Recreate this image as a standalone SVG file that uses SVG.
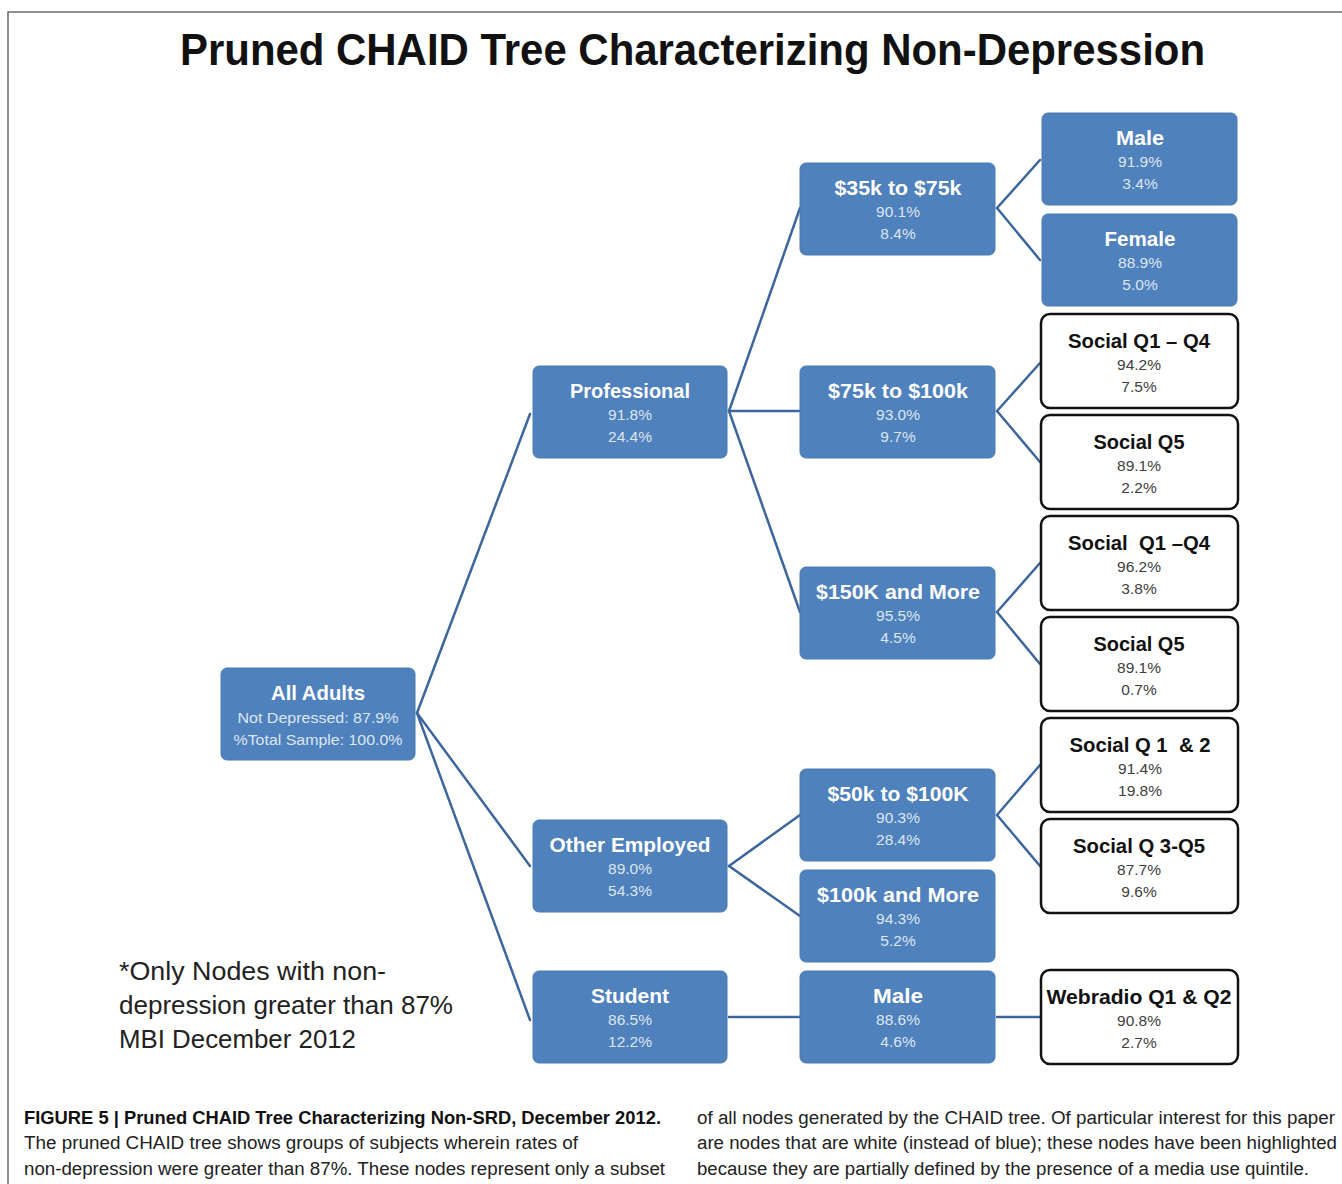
<svg xmlns="http://www.w3.org/2000/svg" width="1342" height="1184" viewBox="0 0 1342 1184">
<style>
.bg{fill:#ffffff}
.frame{fill:none;stroke:#6b6b6b;stroke-width:1.5}
.blue{fill:#4f81bd;stroke:#4a7bb7;stroke-width:1}
.white{fill:#ffffff;stroke:#111111;stroke-width:2.5}
.conn line{stroke:#3d679c;stroke-width:2.5;stroke-linecap:round}
.bt{font-family:"Liberation Sans",Arial,sans-serif;font-weight:bold;font-size:21px;fill:#ffffff;text-anchor:middle}
.bp{font-family:"Liberation Sans",Arial,sans-serif;font-size:15.5px;fill:#dce6f2;text-anchor:middle}
.wt{font-family:"Liberation Sans",Arial,sans-serif;font-weight:bold;font-size:21px;fill:#111111;text-anchor:middle}
.wp{font-family:"Liberation Sans",Arial,sans-serif;font-size:15.5px;fill:#404040;text-anchor:middle}
.title{font-family:"Liberation Sans",Arial,sans-serif;font-weight:bold;font-size:44px;fill:#111111}
.note{font-family:"Liberation Sans",Arial,sans-serif;font-size:25px;fill:#222222}
.cap{font-family:"Liberation Sans",Arial,sans-serif;font-size:18px;fill:#222222}
.capb{font-family:"Liberation Sans",Arial,sans-serif;font-size:18px;font-weight:bold;fill:#111111}
</style>
<rect class="bg" x="0" y="0" width="1342" height="1184"/>
<path class="frame" d="M8,1184 L8,12 L1342,12"/>
<text class="title" x="180" y="65" textLength="1025" lengthAdjust="spacingAndGlyphs">Pruned CHAID Tree Characterizing Non-Depression</text>

<g id="connectors" class="conn">
<line x1="417" y1="713" x2="530" y2="414"/>
<line x1="417" y1="713" x2="530" y2="866"/>
<line x1="417" y1="713" x2="530" y2="1020"/>
<line x1="729" y1="411" x2="800" y2="208"/>
<line x1="729" y1="411" x2="800" y2="411"/>
<line x1="729" y1="411" x2="800" y2="612"/>
<line x1="997" y1="208" x2="1040" y2="160"/>
<line x1="997" y1="208" x2="1040" y2="260"/>
<line x1="997" y1="411" x2="1040" y2="363"/>
<line x1="997" y1="411" x2="1040" y2="462"/>
<line x1="997" y1="612" x2="1040" y2="563"/>
<line x1="997" y1="612" x2="1040" y2="664"/>
<line x1="729" y1="866" x2="800" y2="815"/>
<line x1="729" y1="866" x2="800" y2="916"/>
<line x1="997" y1="815" x2="1040" y2="765"/>
<line x1="997" y1="815" x2="1040" y2="866"/>
<line x1="729" y1="1017" x2="800" y2="1017"/>
<line x1="997" y1="1017" x2="1040" y2="1017"/>
</g>

<g id="n-all">
<rect class="blue" x="221" y="668" width="194" height="92" rx="6"/>
<text class="bt" x="318" y="700" textLength="94" lengthAdjust="spacingAndGlyphs">All Adults</text>
<text class="bp" x="318" y="723" textLength="161" lengthAdjust="spacingAndGlyphs">Not Depressed: 87.9%</text>
<text class="bp" x="318" y="745" textLength="169" lengthAdjust="spacingAndGlyphs">%Total Sample: 100.0%</text>
</g>

<g id="n-prof">
<rect class="blue" x="533" y="366" width="194" height="92" rx="6"/>
<text class="bt" x="630" y="398" textLength="120" lengthAdjust="spacingAndGlyphs">Professional</text>
<text class="bp" x="630" y="420">91.8%</text>
<text class="bp" x="630" y="442">24.4%</text>
</g>

<g id="n-other">
<rect class="blue" x="533" y="820" width="194" height="92" rx="6"/>
<text class="bt" x="630" y="852" textLength="161" lengthAdjust="spacingAndGlyphs">Other Employed</text>
<text class="bp" x="630" y="874">89.0%</text>
<text class="bp" x="630" y="896">54.3%</text>
</g>

<g id="n-student">
<rect class="blue" x="533" y="971" width="194" height="92" rx="6"/>
<text class="bt" x="630" y="1003" textLength="78" lengthAdjust="spacingAndGlyphs">Student</text>
<text class="bp" x="630" y="1025">86.5%</text>
<text class="bp" x="630" y="1047">12.2%</text>
</g>

<g id="n-35k">
<rect class="blue" x="800" y="163" width="195" height="92" rx="6"/>
<text class="bt" x="898" y="195" textLength="127" lengthAdjust="spacingAndGlyphs">$35k to $75k</text>
<text class="bp" x="898" y="217">90.1%</text>
<text class="bp" x="898" y="239">8.4%</text>
</g>

<g id="n-75k">
<rect class="blue" x="800" y="366" width="195" height="92" rx="6"/>
<text class="bt" x="898" y="398" textLength="140" lengthAdjust="spacingAndGlyphs">$75k to $100k</text>
<text class="bp" x="898" y="420">93.0%</text>
<text class="bp" x="898" y="442">9.7%</text>
</g>

<g id="n-150k">
<rect class="blue" x="800" y="567" width="195" height="92" rx="6"/>
<text class="bt" x="898" y="599" textLength="164" lengthAdjust="spacingAndGlyphs">$150K and More</text>
<text class="bp" x="898" y="621">95.5%</text>
<text class="bp" x="898" y="643">4.5%</text>
</g>

<g id="n-50k">
<rect class="blue" x="800" y="769" width="195" height="92" rx="6"/>
<text class="bt" x="898" y="801" textLength="141" lengthAdjust="spacingAndGlyphs">$50k to $100K</text>
<text class="bp" x="898" y="823">90.3%</text>
<text class="bp" x="898" y="845">28.4%</text>
</g>

<g id="n-100k">
<rect class="blue" x="800" y="870" width="195" height="92" rx="6"/>
<text class="bt" x="898" y="902" textLength="162" lengthAdjust="spacingAndGlyphs">$100k and More</text>
<text class="bp" x="898" y="924">94.3%</text>
<text class="bp" x="898" y="946">5.2%</text>
</g>

<g id="n-smale">
<rect class="blue" x="800" y="971" width="195" height="92" rx="6"/>
<text class="bt" x="898" y="1003" textLength="50" lengthAdjust="spacingAndGlyphs">Male</text>
<text class="bp" x="898" y="1025">88.6%</text>
<text class="bp" x="898" y="1047">4.6%</text>
</g>

<g id="n-male">
<rect class="blue" x="1042" y="113" width="195" height="92" rx="6"/>
<text class="bt" x="1140" y="145" textLength="48" lengthAdjust="spacingAndGlyphs">Male</text>
<text class="bp" x="1140" y="167">91.9%</text>
<text class="bp" x="1140" y="189">3.4%</text>
</g>

<g id="n-female">
<rect class="blue" x="1042" y="214" width="195" height="92" rx="6"/>
<text class="bt" x="1140" y="246" textLength="71" lengthAdjust="spacingAndGlyphs">Female</text>
<text class="bp" x="1140" y="268">88.9%</text>
<text class="bp" x="1140" y="290">5.0%</text>
</g>

<g id="n-s1">
<rect class="white" x="1041" y="314" width="197" height="94" rx="9"/>
<text class="wt" x="1139" y="348" textLength="142" lengthAdjust="spacingAndGlyphs">Social Q1 – Q4</text>
<text class="wp" x="1139" y="370">94.2%</text>
<text class="wp" x="1139" y="392">7.5%</text>
</g>

<g id="n-s2">
<rect class="white" x="1041" y="415" width="197" height="94" rx="9"/>
<text class="wt" x="1139" y="449" textLength="91" lengthAdjust="spacingAndGlyphs">Social Q5</text>
<text class="wp" x="1139" y="471">89.1%</text>
<text class="wp" x="1139" y="493">2.2%</text>
</g>

<g id="n-s3">
<rect class="white" x="1041" y="516" width="197" height="94" rx="9"/>
<text class="wt" x="1139" y="550" textLength="142" lengthAdjust="spacingAndGlyphs" xml:space="preserve">Social  Q1 –Q4</text>
<text class="wp" x="1139" y="572">96.2%</text>
<text class="wp" x="1139" y="594">3.8%</text>
</g>

<g id="n-s4">
<rect class="white" x="1041" y="617" width="197" height="94" rx="9"/>
<text class="wt" x="1139" y="651" textLength="91" lengthAdjust="spacingAndGlyphs">Social Q5</text>
<text class="wp" x="1139" y="673">89.1%</text>
<text class="wp" x="1139" y="695">0.7%</text>
</g>

<g id="n-s5">
<rect class="white" x="1041" y="718" width="197" height="94" rx="9"/>
<text class="wt" x="1140" y="752" textLength="141" lengthAdjust="spacingAndGlyphs" xml:space="preserve">Social Q 1  &amp; 2</text>
<text class="wp" x="1140" y="774">91.4%</text>
<text class="wp" x="1140" y="796">19.8%</text>
</g>

<g id="n-s6">
<rect class="white" x="1041" y="819" width="197" height="94" rx="9"/>
<text class="wt" x="1139" y="853" textLength="132" lengthAdjust="spacingAndGlyphs">Social Q 3-Q5</text>
<text class="wp" x="1139" y="875">87.7%</text>
<text class="wp" x="1139" y="897">9.6%</text>
</g>

<g id="n-web">
<rect class="white" x="1041" y="970" width="197" height="94" rx="9"/>
<text class="wt" x="1139" y="1004" textLength="185" lengthAdjust="spacingAndGlyphs">Webradio Q1 &amp; Q2</text>
<text class="wp" x="1139" y="1026">90.8%</text>
<text class="wp" x="1139" y="1048">2.7%</text>
</g>

<g id="note">
<text class="note" x="119" y="980" textLength="267" lengthAdjust="spacingAndGlyphs">*Only Nodes with non-</text>
<text class="note" x="119" y="1014" textLength="334" lengthAdjust="spacingAndGlyphs">depression greater than 87%</text>
<text class="note" x="119" y="1048" textLength="237" lengthAdjust="spacingAndGlyphs">MBI December 2012</text>
</g>

<g id="caption">
<text class="capb" x="24" y="1124" textLength="637" lengthAdjust="spacingAndGlyphs">FIGURE 5 | Pruned CHAID Tree Characterizing Non-SRD, December 2012.</text>
<text class="cap" x="24" y="1149" textLength="554" lengthAdjust="spacingAndGlyphs">The pruned CHAID tree shows groups of subjects wherein rates of</text>
<text class="cap" x="24" y="1175" textLength="641" lengthAdjust="spacingAndGlyphs">non-depression were greater than 87%. These nodes represent only a subset</text>
<text class="cap" x="697" y="1124" textLength="638" lengthAdjust="spacingAndGlyphs">of all nodes generated by the CHAID tree. Of particular interest for this paper</text>
<text class="cap" x="697" y="1149" textLength="640" lengthAdjust="spacingAndGlyphs">are nodes that are white (instead of blue); these nodes have been highlighted</text>
<text class="cap" x="697" y="1175" textLength="612" lengthAdjust="spacingAndGlyphs">because they are partially defined by the presence of a media use quintile.</text>
</g>
</svg>
